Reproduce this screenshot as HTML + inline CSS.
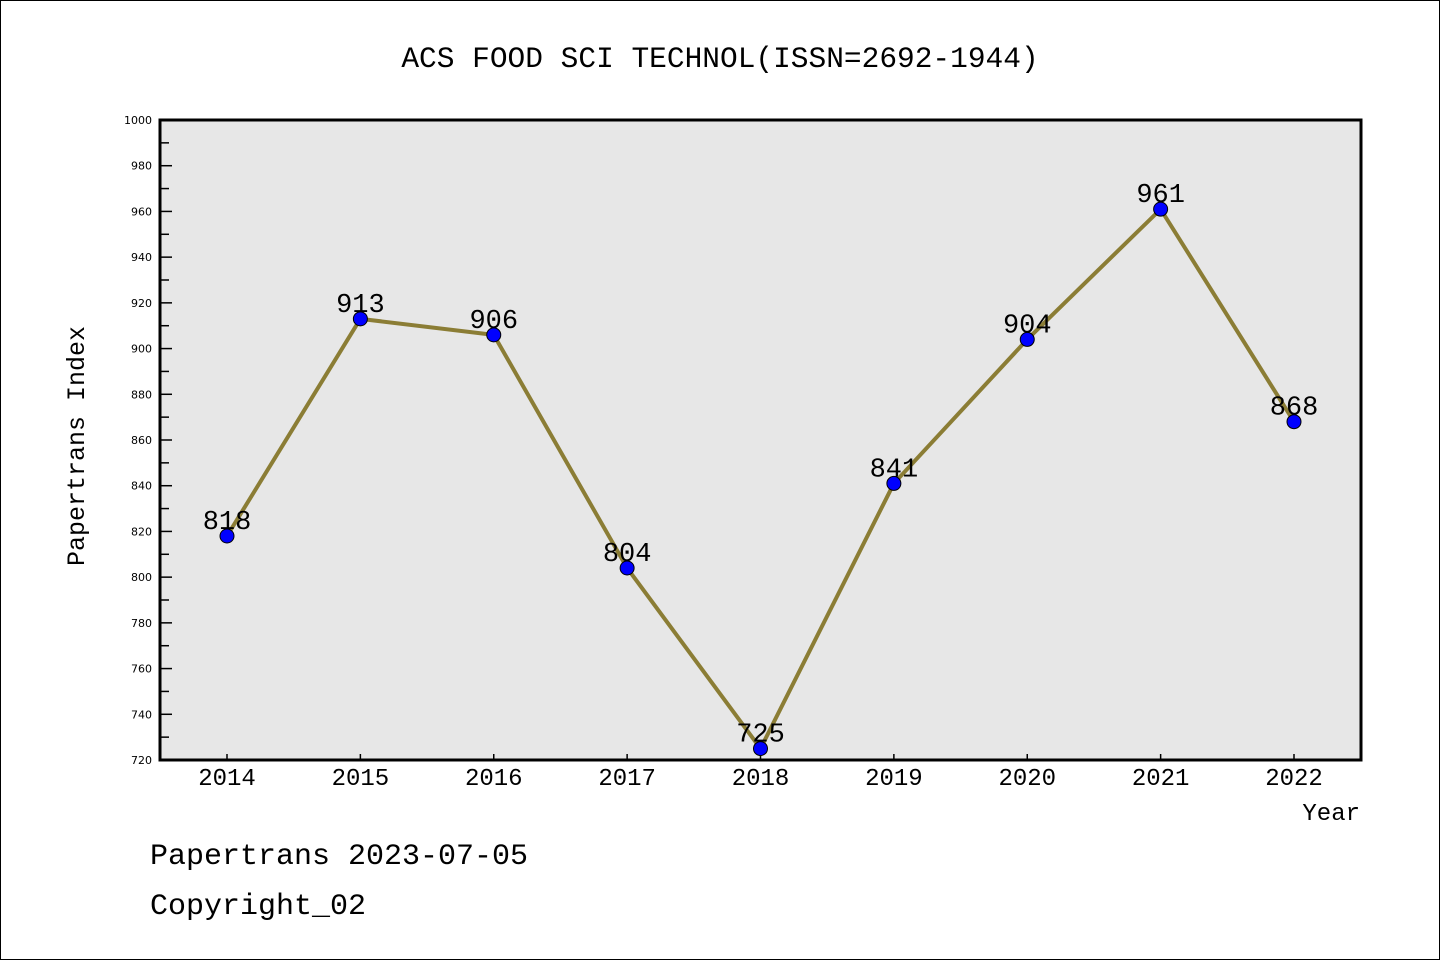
<!DOCTYPE html>
<html><head><meta charset="utf-8"><style>
body{margin:0;background:#fff}
svg{display:block}
text{font-family:"Liberation Mono","WenQuanYi Zen Hei",monospace}
</style></head><body>
<svg id="chart" width="1440" height="960">
<rect x="0.5" y="0.5" width="1439" height="959" fill="#fff" stroke="#000"/>
<text x="720" y="67" font-size="29.5" text-anchor="middle">ACS FOOD SCI TECHNOL(ISSN=2692-1944)</text>
<rect x="160" y="120" width="1201" height="640" fill="#e7e7e7"/>
<g id="yaxis"></g>
<g id="xaxis"></g>
<g id="series"></g>
<rect x="160" y="120" width="1201" height="640" fill="none" stroke="#000" stroke-width="3"/>
<text x="84" y="446" font-size="25" text-anchor="middle" transform="rotate(-90 84 446)">Papertrans Index</text>
<text x="1360" y="820" font-size="24" text-anchor="end">Year</text>
<text x="150" y="864" font-size="30">Papertrans 2023-07-05</text>
<text x="150" y="914" font-size="30">Copyright_02</text>
</svg>
<script>
const years=["2014","2015","2016","2017","2018","2019","2020","2021","2022"];
const values=[818,913,906,804,725,841,904,961,868];
const yTicks=[720,740,760,780,800,820,840,860,880,900,920,940,960,980,1000];
const NS="http://www.w3.org/2000/svg";
const yMin=720,yMax=1000,plotTop=120,plotBot=760;
function ys(v){return plotBot-(v-yMin)/(yMax-yMin)*(plotBot-plotTop);}
function xs(i){return 227+i*(1294-227)/(years.length-1);}
function mk(tag,attrs,parent){const e=document.createElementNS(NS,tag);for(const k in attrs)e.setAttribute(k,attrs[k]);parent.appendChild(e);return e;}
const ya=document.getElementById('yaxis'),xa=document.getElementById('xaxis'),sg=document.getElementById('series');
yTicks.forEach((t,i)=>{
  const y=ys(t);
  const l=mk('line',{x1:160,x2:172,y1:y,y2:y,stroke:'#000','stroke-width':1.5},ya);
  
  
  const tx=mk('text',{x:152,y:y+4,'font-size':11,'text-anchor':'end','style':'font-family:"DejaVu Sans",sans-serif'},ya);
  tx.textContent=t;
  
  
  if(i<yTicks.length-1){
    const ym=ys(t+10);
    const m=mk('line',{x1:160,x2:169,y1:ym,y2:ym,stroke:'#000','stroke-width':1.5},ya);
    
    
  }
});
years.forEach((yr,i)=>{
  const x=xs(i);
  const l=mk('line',{x1:x,x2:x,y1:plotBot,y2:plotBot-6,stroke:'#000','stroke-width':1.5},xa);
  
  
  const tx=mk('text',{x:x,y:785,'font-size':24,'text-anchor':'middle'},xa);
  tx.textContent=yr;
  
  
});
const pts=values.map((v,i)=>xs(i)+','+ys(v)).join(' ');
const pl=mk('polyline',{points:pts,fill:'none',stroke:'#8b7d35','stroke-width':4,'stroke-linejoin':'round'},sg);


values.forEach((v,i)=>{
  const c=mk('circle',{cx:xs(i),cy:ys(v),r:7,fill:'#0000ff',stroke:'#000','stroke-width':1},sg);
  
  
});
values.forEach((v,i)=>{
  const t=mk('text',{x:xs(i),y:ys(v)-7,'font-size':27,'text-anchor':'middle'},sg);
  t.textContent=v;
  
  
});
</script>
</body></html>
